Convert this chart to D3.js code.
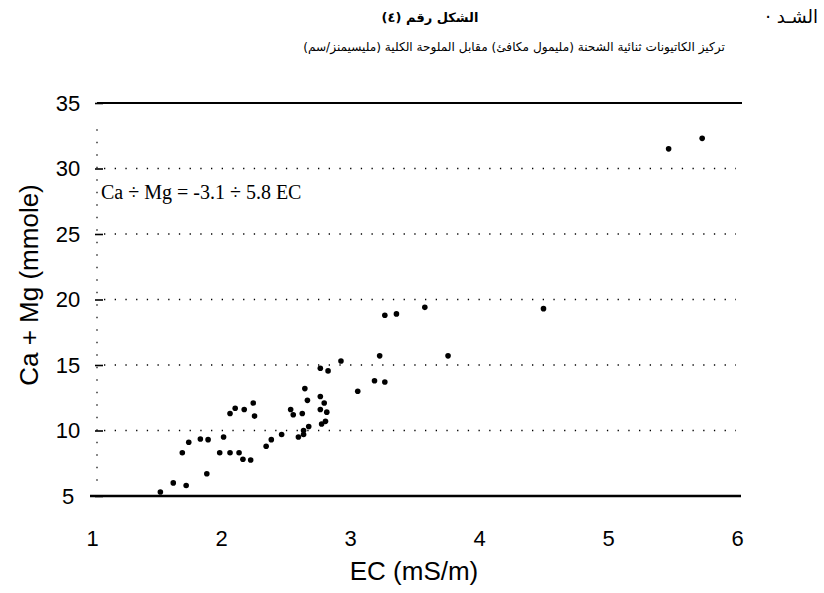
<!DOCTYPE html>
<html><head><meta charset="utf-8">
<script src="https://cdn.jsdelivr.net/npm/d3@7/dist/d3.min.js"></script>
<style>body{margin:0;background:#fff}svg{display:block}</style>
</head><body>
<svg id="chart" width="824" height="593"></svg>
<script>
// ---- data ----
const titleLine1 = "الشكل رقم (٤)";
const titleLine2 = "تركيز الكاتيونات ثنائية الشحنة (مليمول مكافئ) مقابل الملوحة الكلية (مليسيمنز/سم)";
const cornerText = "· الشـد";
const equationText = "Ca ÷ Mg = -3.1 ÷ 5.8 EC";
const xLabel = "EC (mS/m)";
const yLabel = "Ca + Mg (mmole)";
const xTickValues = [1, 2, 3, 4, 5, 6];
const yTickValues = [5, 10, 15, 20, 25, 30, 35];
const gridValues = [10, 15, 20, 25, 30];
const ecValues = [1.53, 1.63, 1.73, 1.89, 1.70, 1.75, 1.84, 1.90, 2.02, 1.99, 2.07, 2.14, 2.17, 2.23,
  2.07, 2.11, 2.18, 2.25, 2.26, 2.35, 2.39, 2.47, 2.54, 2.56, 2.63, 2.60, 2.64, 2.64, 2.68,
  2.65, 2.67, 2.77, 2.80, 2.77, 2.82, 2.78, 2.81, 2.77, 2.83, 2.93, 3.06, 3.19, 3.27, 3.23,
  3.27, 3.36, 3.58, 3.76, 4.50, 5.47, 5.73];
const caMgValues = [5.3, 6.0, 5.8, 6.7, 8.3, 9.1, 9.35, 9.3, 9.5, 8.3, 8.3, 8.3, 7.8, 7.75,
  11.3, 11.7, 11.6, 12.1, 11.1, 8.8, 9.3, 9.7, 11.6, 11.2, 11.3, 9.5, 9.7, 10.0, 10.3,
  13.2, 12.3, 12.6, 12.1, 11.6, 11.4, 10.5, 10.7, 14.75, 14.55, 15.3, 13.0, 13.8, 13.7, 15.7,
  18.8, 18.9, 19.4, 15.7, 19.3, 31.5, 32.3];

// ---- drawing ----
const svg = d3.select("#chart");
const x = d3.scaleLinear().domain([1, 6]).range([92, 737]);
const y = d3.scaleLinear().domain([5, 35]).range([496, 103]);

// titles
svg.append("text").attr("x", 430).attr("y", 22).attr("text-anchor", "middle")
  .attr("font-family", "DejaVu Sans").attr("font-size", 13).attr("font-weight", "bold")
  .text(titleLine1);
const t2 = svg.append("text").attr("x", 514).attr("y", 51).attr("text-anchor", "middle")
  .attr("font-family", "DejaVu Sans").attr("font-size", 14)
  .text(titleLine2);
const w2 = t2.node().getComputedTextLength();
t2.attr("font-size", 14 * 422 / w2);
svg.append("text").attr("x", 818).attr("y", 23).attr("text-anchor", "end")
  .attr("font-family", "DejaVu Sans").attr("font-size", 18)
  .text(cornerText);

// dotted grid lines
svg.append("g").selectAll("line").data(gridValues).join("line")
  .attr("x1", 104).attr("x2", 736)
  .attr("y1", d => y(d)).attr("y2", d => y(d))
  .attr("stroke", "#000").attr("stroke-width", 1.3)
  .attr("stroke-dasharray", "1.3 9.4");

// solid top / bottom frame lines
svg.append("line").attr("x1", 97).attr("x2", 742).attr("y1", y(35)).attr("y2", y(35))
  .attr("stroke", "#000").attr("stroke-width", 2);
svg.append("line").attr("x1", 90).attr("x2", 741).attr("y1", y(5)).attr("y2", y(5))
  .attr("stroke", "#000").attr("stroke-width", 2.4);

// faint dotted left edge
svg.append("line").attr("x1", 97).attr("x2", 97).attr("y1", y(33)).attr("y2", y(5.5))
  .attr("stroke", "#000").attr("stroke-width", 1.2)
  .attr("stroke-dasharray", "1.5 11");

// y axis
const yAxis = svg.append("g").attr("transform", "translate(103,0)")
  .call(d3.axisLeft(y).tickValues(yTickValues).tickSize(8).tickPadding(12).tickFormat(d3.format("d")));
yAxis.select(".domain").remove();
yAxis.selectAll(".tick line").attr("stroke", "#000").attr("stroke-width", 1.6);
yAxis.selectAll(".tick text").attr("font-family", "Liberation Sans, Arial, sans-serif")
  .attr("font-size", 22).attr("fill", "#000").attr("text-anchor", "middle").attr("x", -35);

// x axis (labels only)
const xAxis = svg.append("g").attr("transform", "translate(0,522)")
  .call(d3.axisBottom(x).tickValues(xTickValues).tickSize(0).tickPadding(8).tickFormat(d3.format("d")));
xAxis.select(".domain").remove();
xAxis.selectAll(".tick text").attr("font-family", "Liberation Sans, Arial, sans-serif")
  .attr("font-size", 22).attr("fill", "#000");

// axis titles
svg.append("text").attr("x", 414).attr("y", 580).attr("text-anchor", "middle")
  .attr("font-family", "Liberation Sans, Arial, sans-serif").attr("font-size", 26)
  .text(xLabel);
svg.append("text").attr("transform", "translate(38,285) rotate(-90)")
  .attr("text-anchor", "middle")
  .attr("font-family", "Liberation Sans, Arial, sans-serif").attr("font-size", 26)
  .text(yLabel);

// equation
svg.append("text").attr("x", 101).attr("y", 199)
  .attr("font-family", "Liberation Serif, Times New Roman, serif").attr("font-size", 20)
  .text(equationText);

// points
const pts = ecValues.map((e, i) => ({ ec: e, cm: caMgValues[i] }));
svg.append("g").selectAll("circle").data(pts).join("circle")
  .attr("cx", d => x(d.ec)).attr("cy", d => y(d.cm)).attr("r", 2.8).attr("fill", "#000");
</script>
</body></html>
